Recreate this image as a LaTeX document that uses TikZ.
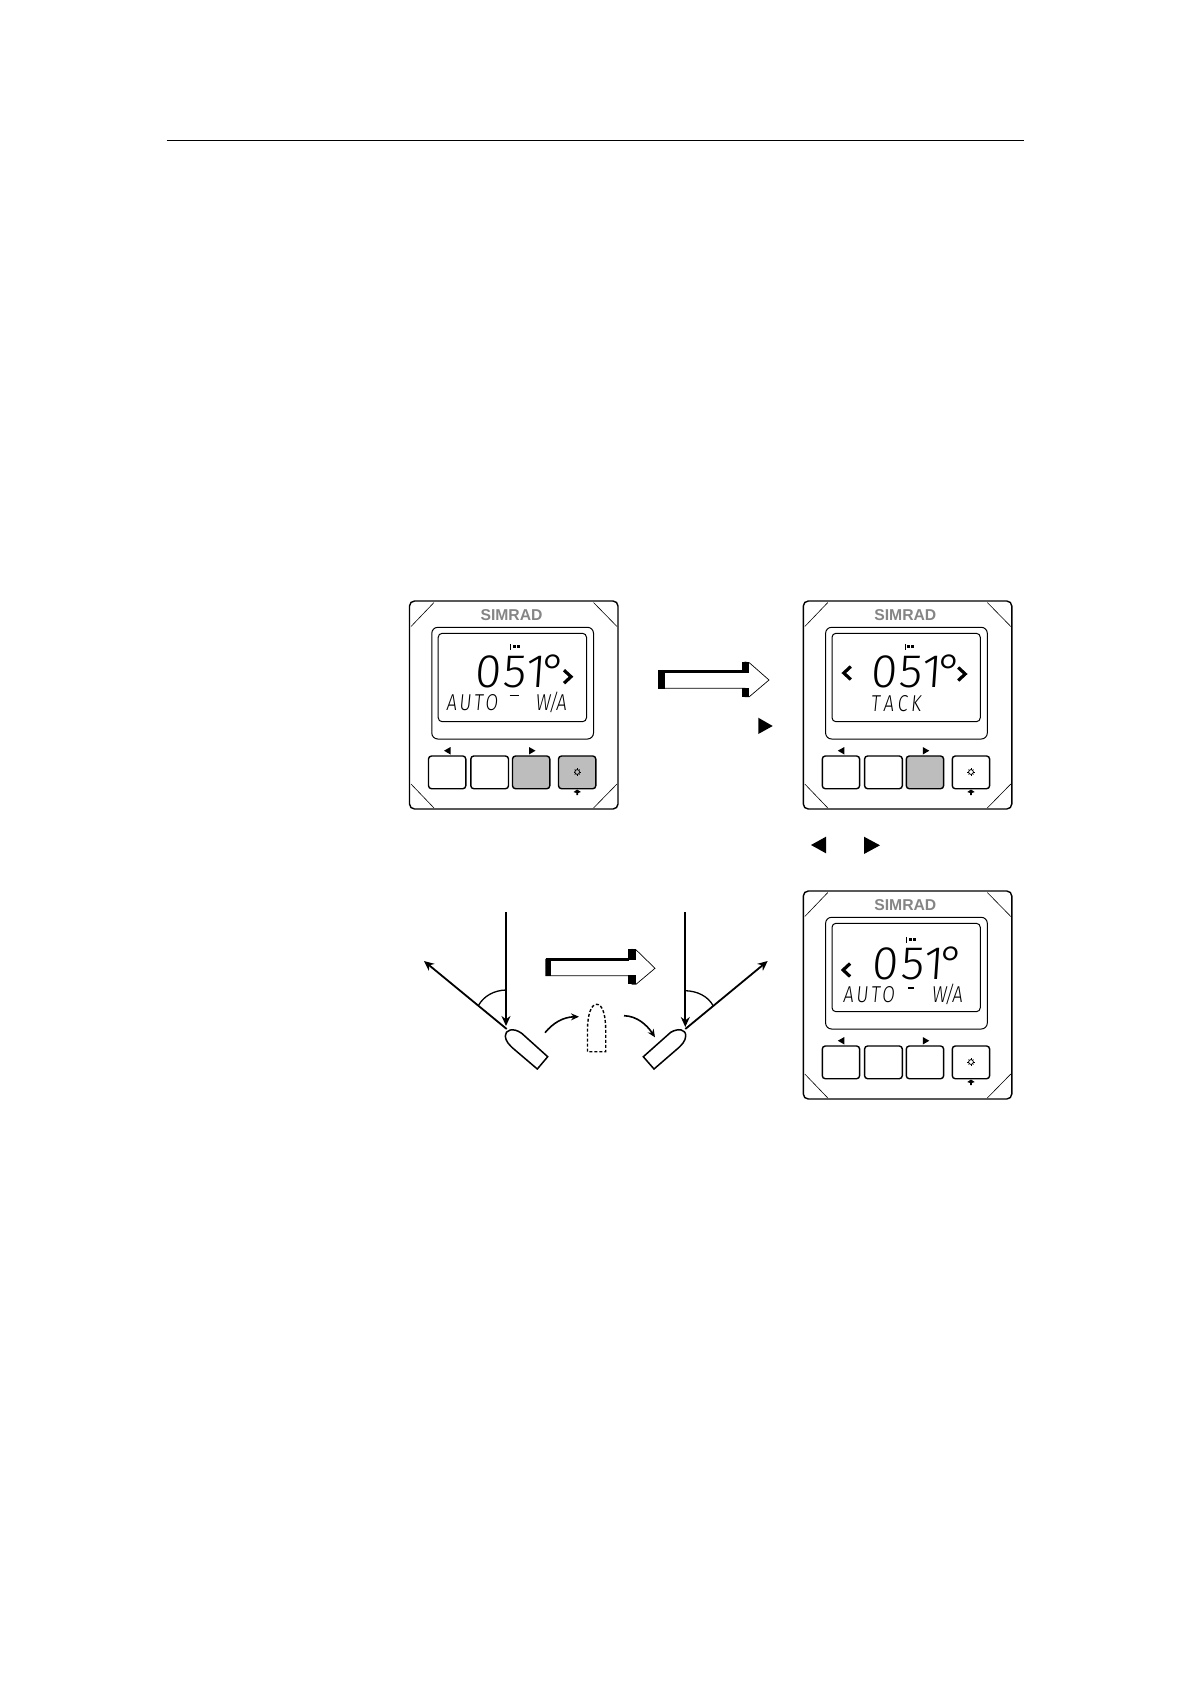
\documentclass[tikz,border=0pt]{standalone}
\usepackage{fontspec}
\usetikzlibrary{arrows.meta}
\setmainfont{Liberation Sans}
\newfontfamily\lcdbig[FakeSlant=0.07,FakeStretch=1.02,LetterSpace=4]{Fira Sans Light}
\newfontfamily\lcdsmall[FakeSlant=0.1,FakeStretch=0.8,LetterSpace=12]{Fira Sans Light}
\definecolor{keygray}{HTML}{BDBDBD}
\definecolor{brandgray}{HTML}{858585}
\tikzset{
  x=1pt,y=-1pt,
  casing/.style={draw=black,line width=1.4pt,rounded corners=5pt},
  thin line/.style={draw=black,line width=.6pt},
  keycap/.style={draw=black,line width=1.4pt,rounded corners=3pt},
  brand/.style={inner sep=0pt,text=brandgray,font=\fontsize{15.7}{15.7}\selectfont\bfseries},
  bigdigits/.style={inner sep=0pt,anchor=base west,font=\fontsize{47}{47}\lcdbig},
  lcdline/.style={inner sep=0pt,anchor=base west,font=\fontsize{23}{23}\lcdsmall},
  solidtri/.style={fill=black,draw=none},
  chevron/.style={draw=black,line width=3.2pt,fill=none,miter limit=10},
  bigarrow/.style={fill=white,draw=black,line width=.7pt},
  wind/.style={draw=black,line width=1.8pt,-{Stealth[length=10pt,width=9pt]}},
  curvearrow/.style={draw=black,line width=1.6pt,-{Stealth[length=8pt,width=7pt]}},
  hull/.style={draw=black,line width=1.5pt,fill=white},
  anglearc/.style={draw=black,line width=1.3pt},
}
% #1 origin, #2 prefix, #3 third key fill, #4 fourth key fill, #5 content
\newcommand{\sbpanel}[5]{%
\begin{scope}[shift={#1}]
  \draw[casing] (0,0) rectangle (208.5,208);
  \draw[thin line] (24.5,1.5) -- (1.5,25.5);
  \draw[thin line] (184,1.5) -- (207.5,25.5);
  \draw[thin line] (1.5,183) -- (24.5,207);
  \draw[thin line] (184,207) -- (207.5,183);
  \node[brand] (#2brand) at (102,14.5) {SIMRAD};
  \draw[draw=black,line width=1pt,rounded corners=6pt] (22.3,26.3) rectangle (184,138);
  \draw[draw=black,line width=1pt,rounded corners=4pt] (28.7,32.3) rectangle (177,120.7);
  \draw[keycap] (19,155) rectangle (56.3,187.7);
  \draw[keycap] (61.3,155) rectangle (99,187.7);
  \draw[keycap,fill=#3] (103,155) rectangle (140.3,187.7);
  \draw[keycap,fill=#4] (149,155) rectangle (186.3,187.7);
  \fill[solidtri] (34.5,149.7) -- (41,146) -- (41,153.5) -- cycle;
  \fill[solidtri] (126,149.7) -- (119.5,146) -- (119.5,153.5) -- cycle;
  \draw[line width=.8pt] (167.7,171) circle (2.4pt);
  \foreach \a in {0,45,...,315} \draw[line width=.5pt] (167.7,171) ++(\a:2.4) -- ++(\a:1.2);
  \fill[solidtri] (164,191) -- (167.7,188.5) -- (171.4,191) -- (168.6,192) -- (168.6,194) -- (166.8,194) -- (166.8,192) -- cycle;
  #5
\end{scope}}
\newcommand{\ticks}[2]{%
  \draw[line width=.8pt] (#1,#2) -- (#1,#2+6);
  \fill[black] (#1+2.3,#2+1) rectangle ++(3,3.3);
  \fill[black] (#1+6.3,#2+1) rectangle ++(3,3.3);
}
\newcommand{\chevR}[2]{\draw[chevron] (#1-3.5,#2-6.5) -- (#1+3.5,#2) -- (#1-3.5,#2+6.5);}
\newcommand{\chevL}[2]{\draw[chevron] (#1+3.5,#2-6.5) -- (#1-3.5,#2) -- (#1+3.5,#2+6.5);}
\newcommand{\lcddeg}{\kern-4.5pt°}
\newcommand{\lcdwa}{W\kern-2pt/\kern-2pt A}
\begin{document}
\begin{tikzpicture}
\useasboundingbox (0,0) rectangle (1190,1684);
\fill[white] (0,0) rectangle (1190,1684);
\coordinate (ruleL) at (166.5,140);
\coordinate (ruleR) at (1023.5,140);
\draw[line width=.9pt] (ruleL) -- (ruleR);

\sbpanel{(409.5,601)}{a}{keygray}{keygray}{%
  \ticks{100.7}{43}
  \node[bigdigits] (adig) at (64.7,86.7) {051\lcddeg};
  \chevR{158}{75.7}
  \node[lcdline] (aauto) at (36.3,109.7) {AUTO};
  \draw[line width=1.1pt] (100,94.5) -- (109,94.5);
  \node[lcdline] (awa) at (125.7,109.7) {\lcdwa};
}
\sbpanel{(803.3,601)}{b}{keygray}{white}{%
  \ticks{101.7}{43}
  \node[bigdigits] (bdig) at (66.7,86) {051\lcddeg};
  \chevL{44}{72}
  \chevR{158.4}{73}
  \node[lcdline] (btack) at (67,110.7) {T\kern3.5pt A\kern3.5pt C\kern3.5pt K};
}
\sbpanel{(803.3,891)}{c}{white}{white}{%
  \ticks{103.4}{46}
  \node[bigdigits] (cdig) at (68.4,88) {051\lcddeg};
  \chevL{43.3}{79}
  \node[lcdline] (cauto) at (39.3,111) {AUTO};
  \draw[line width=1.1pt] (105,97) -- (111,97);
  \node[lcdline] (cwa) at (128,111) {\lcdwa};
}

% large transition arrow, upper
\draw[bigarrow] (658.5,671.7) -- (745,671.7) -- (745,662) -- (749.3,662.7) -- (769,680) -- (749.3,696.7) -- (745,696.7) -- (745,688.3) -- (658.5,688.3) -- cycle;
\fill[black] (658.3,670) rectangle (665,689);
\fill[black] (658.3,670) rectangle (742,673);
\fill[black] (741.7,661.7) rectangle (749.3,672.7);
\fill[black] (741.7,688) rectangle (749.3,696.7);

% large transition arrow, lower
\draw[bigarrow] (545.7,959.3) -- (632,959.3) -- (632,949.3) -- (636,949.8) -- (655,968.3) -- (636,984.3) -- (632,984.3) -- (632,975.7) -- (545.7,975.7) -- cycle;
\fill[black] (545.7,958) rectangle (550.7,975.5);
\fill[black] (545.7,958) rectangle (629,961);
\fill[black] (628.3,949.3) rectangle (636,960);
\fill[black] (628.3,975) rectangle (636,984.3);

% solid key triangles
\fill[solidtri] (758.3,717.7) -- (772.7,726) -- (758.3,734) -- cycle;
\fill[solidtri] (811,845) -- (826,836.7) -- (826,853.3) -- cycle;
\fill[solidtri] (864,836.7) -- (880,845.3) -- (864,854) -- cycle;

% boats
\draw[hull] (547.7,1056.7) -- (521.7,1033.3) .. controls (513,1027) and (505,1030) .. (505.3,1036) .. controls (505.5,1041) and (509,1045) .. (515,1050) -- (537.3,1069) -- cycle;
\draw[hull] (643.3,1056.7) -- (670.7,1032.3) .. controls (678,1028) and (686,1029) .. (685.7,1036) .. controls (685.5,1041) and (682,1045) .. (676,1050) -- (654,1069) -- cycle;
\draw[draw=black,line width=1.4pt,dash pattern=on 3pt off 2pt] (587.5,1051.7) -- (587.5,1030) .. controls (587.5,1015) and (591,1004.3) .. (596.7,1004.3) .. controls (602.5,1004.3) and (605.7,1015) .. (605.7,1030) -- (605.7,1051.7) -- cycle;

% wind and course
\coordinate (windAtop) at (506,912.3);
\coordinate (windAend) at (506,1026);
\coordinate (windBtop) at (685.3,912.3);
\coordinate (windBend) at (685.3,1027);
\coordinate (courseAstart) at (506.7,1029);
\coordinate (courseAend) at (424,961);
\coordinate (courseBstart) at (685.3,1029);
\coordinate (courseBend) at (767.7,961);
\draw[wind] (windAtop) -- (windAend);
\draw[wind] (windBtop) -- (windBend);
\draw[wind] (courseAstart) -- (courseAend);
\draw[wind] (courseBstart) -- (courseBend);
\draw[anglearc] (478.7,1005) .. controls (484,996) and (494,990.3) .. (506,990);
\draw[anglearc] (685.3,990.7) .. controls (697,991) and (708,996) .. (713.3,1006);

% turning arrows
\coordinate (turnAs) at (545,1032.7);
\coordinate (turnAe) at (579,1016.7);
\coordinate (turnBs) at (624,1015.7);
\coordinate (turnBe) at (655,1037.3);
\draw[curvearrow] (turnAs) .. controls (553,1023) and (563,1017) .. (turnAe);
\draw[curvearrow] (turnBs) .. controls (637,1016) and (647,1025) .. (turnBe);
\end{tikzpicture}
\end{document}
